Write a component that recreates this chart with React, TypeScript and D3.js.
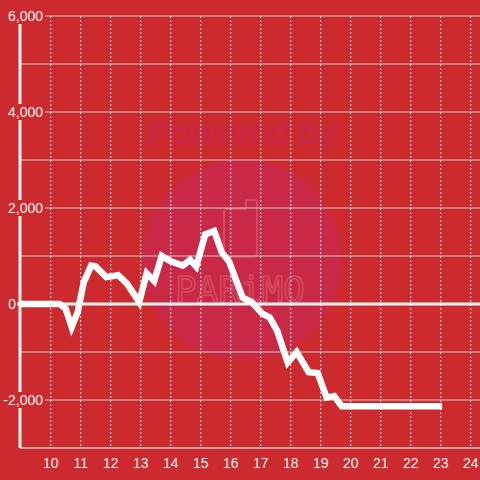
import React from 'react';
import * as d3 from 'd3';

const hours = [9.0, 10.3, 10.5, 10.7, 10.9, 11.1, 11.35, 11.5, 11.85, 12.25, 12.55, 12.95, 13.2, 13.45, 13.7, 14.0, 14.4, 14.65, 14.85, 15.15, 15.45, 15.7, 15.95, 16.4, 16.7, 17.05, 17.3, 17.55, 17.9, 18.2, 18.6, 18.9, 19.2, 19.45, 19.7, 23.05];
const values = [0, 0, -100, -480, -170, 450, 800, 780, 560, 600, 420, 40, 640, 480, 1000, 890, 800, 920, 780, 1450, 1520, 1080, 880, 130, 40, -200, -280, -560, -1220, -1000, -1420, -1440, -1950, -1920, -2130, -2130];
const yTickValues = [-2000, 0, 2000, 4000, 6000];
const yTickLabels = ['-2,000', '0', '2,000', '4,000', '6,000'];
const yGridValues = [-2000, -1000, 1000, 2000, 3000, 4000, 5000, 6000];
const xTickValues = [10, 11, 12, 13, 14, 15, 16, 17, 18, 19, 20, 21, 22, 23, 24];
const xTickLabels = ['10', '11', '12', '13', '14', '15', '16', '17', '18', '19', '20', '21', '22', '23', '24'];

const W = 480;
const H = 480;
const BG = 'rgb(204,42,46)';
const FONT = '"Liberation Sans", Arial, sans-serif';

export default function App() {
  const x = d3.scaleLinear().domain([9, 24]).range([20.7, 470.7]);
  const y = d3.scaleLinear().domain([-3000, 6000]).range([448, 16]);
  const axisX = 20;
  const pts: [number, number][] = hours.map((h, i) => [h, values[i]]);
  const line = d3.line<[number, number]>().x(d => x(d[0])).y(d => y(d[1]));
  const path = line(pts) || '';

  return (
    <svg width={W} height={H} style={{ position: 'absolute', left: 0, top: 0 }} fontFamily={FONT}>
      <rect x={0} y={0} width={W} height={H} fill={BG} />
      {/* watermark */}
      <g>
        <circle cx={242} cy={260} r={100} fill="rgb(201,40,70)" />
        <text x={243} y={144} textAnchor="middle" fontSize={34} fontWeight="bold" fontStyle="italic" fill="rgb(200,38,66)">Powered by</text>
        <path d="M226,209 H246 V202 Q246,200 248,200 H255 Q257,200 257,202 V253 Q257,257 253,257 H228 Q224,257 224,253 V211 Q224,209 226,209 Z" fill="none" stroke="rgb(214,72,96)" strokeWidth={2} />
        <text x={240} y={302} textAnchor="middle" fontSize={36} fontFamily='"DejaVu Sans Mono", monospace' fill="none" stroke="rgb(214,72,96)" strokeWidth={1.6}>PARiMO</text>
      </g>
      {/* vertical dashed grid */}
      {xTickValues.map(v => (
        <line key={'vx' + v} x1={x(v)} x2={x(v)} y1={16} y2={446} stroke="#e6e6e6" strokeWidth={1} strokeDasharray="2,2" />
      ))}
      {/* horizontal grid */}
      {yGridValues.map(v => (
        <line key={'hy' + v} x1={axisX} x2={W} y1={y(v)} y2={y(v)} stroke="#cccccc" strokeWidth={1} />
      ))}
      {/* bottom axis */}
      <line x1={axisX} x2={W} y1={y(-3000)} y2={y(-3000)} stroke="#cccccc" strokeWidth={1.5} />
      {/* y axis */}
      <line x1={axisX} x2={axisX} y1={y(6000)} y2={y(-3000)} stroke="#f2f2f2" strokeWidth={3} />
      {/* y labels */}
      {yTickValues.map((v, i) =>
        v === 0 ? (
          <text key={'yl' + v} x={16} y={y(v) + 5} textAnchor="end" fontSize={14} fill="#f0f0f0">{yTickLabels[i]}</text>
        ) : (
          <g key={'yl' + v}>
            <rect x={0} y={y(v) - 8} width={45} height={16} fill={BG} />
            <text x={43} y={y(v) + 5} textAnchor="end" fontSize={14} fill="#f0f0f0">{yTickLabels[i]}</text>
          </g>
        )
      )}
      {/* x labels */}
      {xTickValues.map((v, i) => (
        <text key={'xl' + v} x={x(v)} y={468} textAnchor="middle" fontSize={14} fill="#f0f0f0">{xTickLabels[i]}</text>
      ))}
      {/* zero line */}
      <line x1={17} x2={W} y1={y(0)} y2={y(0)} stroke="#f5f5f5" strokeWidth={3} />
      {/* data line */}
      <path d={path} fill="none" stroke="#ffffff" strokeWidth={6.5} strokeLinejoin="miter" />
    </svg>
  );
}
